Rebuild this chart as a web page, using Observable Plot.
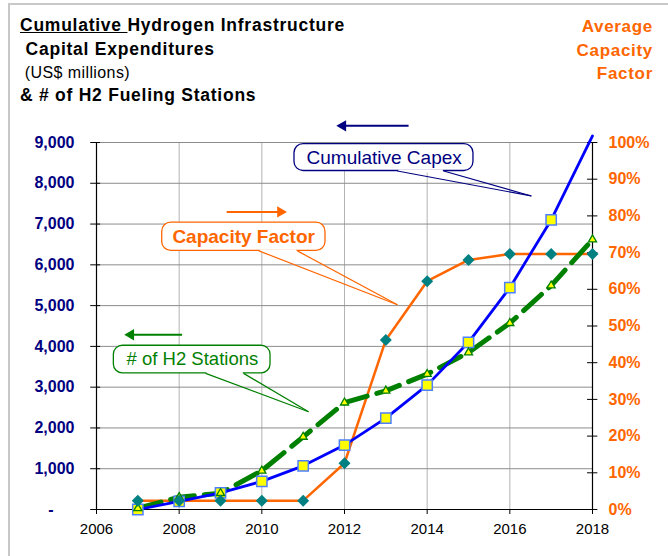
<!DOCTYPE html>
<html>
<head>
<meta charset="utf-8">
<script src="https://cdn.jsdelivr.net/npm/d3@7"></script>
<script src="https://cdn.jsdelivr.net/npm/@observablehq/plot@0.6"></script>
<style>
  html, body { margin: 0; padding: 0; width: 668px; height: 556px; overflow: hidden; background: #fff; }
  #wrap { position: relative; width: 668px; height: 556px; font-family: "Liberation Sans", Arial, sans-serif; }
  #chart { position: absolute; left: 0; top: 0; }
  .border { position: absolute; left: 8px; top: 3px; width: 700px; height: 600px; border-left: 2px solid #c8c8c8; border-top: 2px solid #c8c8c8; pointer-events: none; }
  .tl { position: absolute; white-space: pre; line-height: 17px; color: #000; }
  .b { font-weight: bold; font-size: 17.5px; letter-spacing: 0.75px; }
  .n { font-weight: normal; font-size: 16px; letter-spacing: 0.4px; }
  .rt { position: absolute; right: 15px; top: 15px; text-align: right; color: #ff6600; font-weight: bold; font-size: 17px; line-height: 23.5px; letter-spacing: 0.7px; }
</style>
</head>
<body>
<div id="wrap">
  <div id="chart"></div>
  <div class="border"></div>
  <div class="tl b" style="left:20px; top:17px;"><span style="text-decoration:underline">Cumulative </span>Hydrogen Infrastructure</div>
  <div class="tl b" style="left:20px; top:41px;"> Capital Expenditures</div>
  <div class="tl n" style="left:20px; top:64px;"> (US$ millions)</div>
  <div class="tl b" style="left:20px; top:87px;">&amp; # of H2 Fueling Stations</div>
  <div class="rt">Average<br>Capacity<br>Factor</div>
</div>
<script>
// ---- data ----
const years = [2007, 2008, 2009, 2010, 2011, 2012, 2013, 2014, 2015, 2016, 2017, 2018];
const capex = [0, 200, 410, 690, 1070, 1580, 2240, 3050, 4100, 5440, 7100, 9160];          // US$ millions, cumulative
const stations = [30, 300, 400, 950, 1780, 2620, 2910, 3320, 3850, 4570, 5490, 6620];       // # of H2 stations (left axis)
const capacityFactor = [2.4, 2.4, 2.4, 2.4, 2.4, 12.6, 46.2, 62.2, 68.0, 69.6, 69.6, 69.6]; // percent (right axis)

const leftTicks = [0, 1000, 2000, 3000, 4000, 5000, 6000, 7000, 8000, 9000];
const rightTicks = [0, 10, 20, 30, 40, 50, 60, 70, 80, 90, 100];
const xTicks = [2006, 2008, 2010, 2012, 2014, 2016, 2018];
const xGrid = [2008, 2010, 2012, 2014, 2016];

// callout labels
const calloutLabels = ["Cumulative Capex", "Capacity Factor", "# of H2 Stations"];

// ---- layout / styles ----
const navy = "#000080", orange = "#ff6600", green = "#008000", blue = "#0000ff", teal = "#008080", yellow = "#ffff00";
const pctToLeft = 9000 / 100;

const rows = years.map((year, i) => ({year, capex: capex[i], stations: stations[i], cf: capacityFactor[i] * pctToLeft}));

// callout placement in data coordinates (x: year, y: left-axis units)
const calloutLayout = [
  {label: calloutLabels[0], color: navy, weight: "normal", size: 19,
   x1: 2010.79, x2: 2015.12, y1: 8301, y2: 8962, tx: 2012.96, ty: 8631,
   b1: 2013.28, b2: 2014.40, tipX: 2016.52, tipY: 7689,
   arrowFrom: 2013.55, arrowTo: 2011.86, arrowY: 9410, dir: -1},
  {label: calloutLabels[1], color: orange, weight: "bold", size: 19,
   x1: 2007.59, x2: 2011.54, y1: 6342, y2: 7035, tx: 2009.56, ty: 6688,
   b1: 2009.93, b2: 2010.86, tipX: 2013.28, tipY: 5020,
   arrowFrom: 2009.15, arrowTo: 2010.55, arrowY: 7297, dir: 1},
  {label: calloutLabels[2], color: green, weight: "normal", size: 18.5,
   x1: 2006.42, x2: 2010.21, y1: 3338, y2: 4016, tx: 2008.32, ty: 3677,
   b1: 2008.64, b2: 2009.56, tipX: 2011.13, tipY: 2396,
   arrowFrom: 2008.07, arrowTo: 2006.73, arrowY: 4285, dir: -1}
];

const calloutMarks = calloutLayout.flatMap(c => [
  Plot.rect([c], {x1: "x1", x2: "x2", y1: "y1", y2: "y2", fill: "white", stroke: c.color, strokeWidth: 1.3, rx: 9}),
  Plot.link([c], {x1: d => d.b1 + 0.02, x2: d => d.b2 - 0.02, y1: "y1", y2: "y1", stroke: "white", strokeWidth: 3}),
  Plot.link([c, c], {x1: (d, i) => i === 0 ? d.b1 : d.b2, x2: "tipX", y1: "y1", y2: "tipY", stroke: c.color, strokeWidth: 1.2}),
  Plot.text([c], {x: "tx", y: "ty", text: "label", fill: c.color, fontSize: c.size, fontWeight: c.weight}),
  Plot.link([c], {x1: "arrowFrom", x2: d => d.arrowTo - d.dir * 0.12, y1: "arrowY", y2: "arrowY", stroke: c.color, strokeWidth: 2}),
  Plot.dot([c], {x: d => d.arrowTo - d.dir * 0.1, y: "arrowY", symbol: "triangle", r: 4.2, fill: c.color, stroke: "none", rotate: c.dir > 0 ? 90 : -90})
]);

const fmtLeft = d => d === 0 ? "-\u2007\u2007\u2009" : d3.format(",")(d);

const chart = Plot.plot({
  width: 668,
  height: 556,
  marginLeft: 96,
  marginRight: 76,
  marginTop: 142,
  marginBottom: 47,
  style: {background: "none", fontFamily: "'Liberation Sans', Arial, sans-serif", overflow: "visible"},
  x: {domain: [2006, 2018], axis: null},
  y: {domain: [0, 9000], axis: null},
  marks: [
    Plot.gridX(xGrid, {stroke: "#b4b4b4", strokeOpacity: 1}),
    Plot.gridY(leftTicks.filter(d => d > 0), {stroke: "#8c8c8c", strokeOpacity: 1}),
    ...calloutMarks,
    // axis lines
    Plot.ruleX([2006, 2018], {stroke: "black", strokeWidth: 1.2}),
    Plot.ruleY([0], {x1: 2005.88, x2: 2018.12, stroke: "black", strokeWidth: 1.2}),
    Plot.ruleY(leftTicks, {x1: 2005.86, x2: 2006.1, stroke: "black"}),
    Plot.ruleY(rightTicks.map(d => d * pctToLeft), {x1: 2017.88, x2: 2018.13, stroke: "black"}),
    // series
    Plot.line(rows, {x: "year", y: "cf", stroke: orange, strokeWidth: 2.5}),
    Plot.line(rows, {x: "year", y: "stations", stroke: green, strokeWidth: 5, strokeDasharray: "24,10"}),
    Plot.line(rows, {x: "year", y: "capex", stroke: blue, strokeWidth: 2.8}),
    Plot.dot(rows.filter(d => d.capex <= 9000), {x: "year", y: "capex", symbol: "square", r: 5.8, fill: yellow, stroke: "#4d7fff", strokeWidth: 1.5}),
    Plot.dot(rows, {x: "year", y: "stations", symbol: "triangle", r: 3, fill: yellow, stroke: green, strokeWidth: 1.3}),
    Plot.dot(rows, {x: "year", y: "cf", symbol: "diamond2", r: 5.4, fill: teal}),
    // axes
    Plot.axisY(leftTicks, {anchor: "left", tickSize: 0, tickPadding: 22, tickFormat: fmtLeft, color: navy, fill: navy, fontWeight: "bold", fontSize: 16}),
    Plot.axisY(rightTicks.map(d => d * pctToLeft), {anchor: "right", tickSize: 0, tickPadding: 16, tickFormat: d => Math.round(d / pctToLeft) + "%", color: orange, fill: orange, fontWeight: "bold", fontSize: 16}),
    Plot.axisX(xTicks, {anchor: "bottom", tickSize: 5, tickPadding: 9, tickFormat: d => String(d), fontSize: 15, color: "black"})
  ]
});
document.getElementById("chart").appendChild(chart);
</script>
</body>
</html>
